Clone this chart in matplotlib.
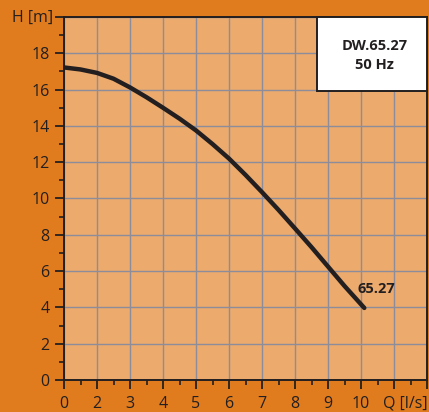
import matplotlib
matplotlib.use("Agg")
import matplotlib.pyplot as plt
import numpy as np

# Data (x in grid-index units; tick labels as printed on the chart)
x_tick_pos = [0, 1, 2, 3, 4, 5, 6, 7, 8, 9]
x_tick_labels = ["0", "2", "3", "4", "5", "6", "7", "8", "9", "10"]
y_ticks = [0, 2, 4, 6, 8, 10, 12, 14, 16, 18]
curve_x = [0, 0.5, 1, 1.5, 2, 2.5, 3, 3.5, 4, 4.5, 5, 5.5, 6, 6.5, 7, 7.5, 8, 8.5, 9.1]
curve_h = [17.22, 17.11, 16.92, 16.6, 16.12, 15.58, 15.0, 14.4, 13.75, 13.0, 12.2, 11.3, 10.35, 9.37, 8.35, 7.32, 6.25, 5.18, 3.97]
curve_name = "65.27"
title_lines = ["DW.65.27", "50 Hz"]

fig_bg = "#E07C1E"
ax_bg = "#ECAA6C"
grid_c = "#8C8C9A"
dark = "#231F20"
font = ["Open Sans", "DejaVu Sans"]
fs = 11.5

fig = plt.figure(figsize=(4.29, 4.12), dpi=100, facecolor=fig_bg)
ax = fig.add_axes([64/429, 32/412, 363/429, 363/412])
ax.set_facecolor(ax_bg)
ax.set_xlim(0, 11)
ax.set_ylim(0, 20)

ax.set_xticks(list(x_tick_pos) + [10, 11])
ax.set_xticklabels(x_tick_labels + ["", ""], family=font, fontsize=fs, color=dark)
ax.set_xticks(np.arange(0.5, 11, 1), minor=True)
ax.set_yticks(y_ticks + [20])
ax.set_yticklabels([str(v) for v in y_ticks] + [""], family=font, fontsize=fs, color=dark)
ax.set_yticks(np.arange(1, 20, 2), minor=True)

ax.grid(True, which="major", color=grid_c, linewidth=1.0)
ax.set_axisbelow(True)

ax.tick_params(axis="y", which="major", direction="out", length=6.5, width=1.3, color=dark, pad=4)
ax.tick_params(axis="x", which="major", direction="out", length=6.5, width=1.3, color=dark, pad=5)
ax.tick_params(which="minor", direction="out", length=3.6, width=1.2, color=dark)
for s in ax.spines.values():
    s.set_color(dark)
    s.set_linewidth(1.4)

ax.plot(curve_x, curve_h, color=dark, linewidth=3.2, solid_capstyle="round",
        solid_joinstyle="round", zorder=3)
ax.text(8.9, 5.0, curve_name, family=font, fontsize=10.5, fontweight="bold", color=dark,
        va="center", ha="left")

# title box
ax.add_patch(plt.Rectangle((7.66, 15.95), 3.34, 4.05, facecolor="white", edgecolor=dark,
                           linewidth=1.4, zorder=4, clip_on=False))
ax.text(9.42, 18.4, title_lines[0], family=font, fontsize=10.5, fontweight="bold", color=dark,
        ha="center", va="center", zorder=5)
ax.text(9.42, 17.38, title_lines[1], family=font, fontsize=10.5, fontweight="bold", color=dark,
        ha="center", va="center", zorder=5)

fig.text(33/429, 1 - 18/412, "H [m]", family=font, fontsize=fs, color=dark, ha="center", va="center")
fig.text(428/429, 1 - 404/412, "Q [l/s]", family=font, fontsize=fs, color=dark, ha="right", va="center")

fig.savefig("out.png", dpi=100, facecolor=fig_bg)
